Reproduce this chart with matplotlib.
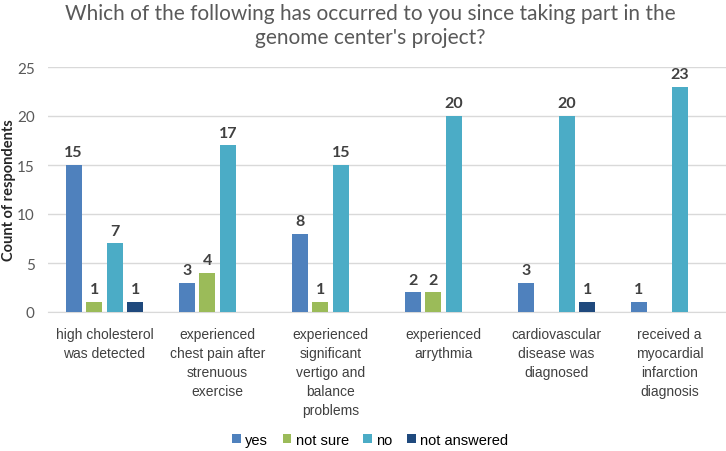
import numpy as np
import matplotlib
matplotlib.use("Agg")
import matplotlib.pyplot as plt

# Datos
categorias = ["high cholesterol\nwas detected",
              "experienced\nchest pain after\nstrenuous\nexercise",
              "experienced\nsignificant\nvertigo and\nbalance\nproblems",
              "experienced\narrythmia",
              "cardiovascular\ndisease was\ndiagnosed",
              "received a\nmyocardial\ninfarction\ndiagnosis"]
series = ["yes", "not sure", "no", "not answered"]
yes = [15, 3, 8, 2, 3, 1]
not_sure = [1, 4, 1, 2, 0, 0]
no = [7, 17, 15, 20, 20, 23]
not_answered = [1, 0, 0, 0, 1, 0]
valores = [yes, not_sure, no, not_answered]
colores = ["#4F81BD", "#9BBB59", "#4BACC6", "#1F497D"]

fig = plt.figure(figsize=(7.26, 4.52), dpi=100)
ax = fig.add_axes([48 / 726, 1 - 313 / 452, 678 / 726, 245 / 452])

x = np.arange(len(categorias))
paso = 0.182
ancho = 0.142
for i, (nombre, vals, c) in enumerate(zip(series, valores, colores)):
    pos = x + (i - 1.5) * paso
    ax.bar(pos, vals, width=ancho, color=c, label=nombre, zorder=3)
    for p, v in zip(pos, vals):
        if v > 0:
            ax.text(p, v + 0.6, str(v), ha="center", va="bottom",
                    fontsize=11.5, fontweight="bold", color="#404040",
                    family="Lato")

ax.set_xlim(-0.5, len(categorias) - 0.5)
ax.set_ylim(0, 25)
ax.set_yticks(range(0, 26, 5))
ax.yaxis.grid(True, color="#D9D9D9", linewidth=1, zorder=0)
for s in ["top", "right", "left"]:
    ax.spines[s].set_visible(False)
ax.spines["bottom"].set_color("#D9D9D9")
ax.tick_params(axis="both", length=0)
ax.tick_params(axis="y", labelsize=11, labelcolor="#595959", pad=9.5)
for lbl in ax.get_yticklabels():
    lbl.set_family("Lato")
ax.set_xticks(x)
ax.set_xticklabels(categorias, fontsize=10, color="#404040",
                   family="Liberation Sans", va="top", linespacing=1.45)
ax.tick_params(axis="x", pad=11)

ax.set_ylabel("Count of respondents", fontsize=10.5, fontweight="bold",
              color="#262626", family="Lato")
ax.yaxis.set_label_coords(-0.047, 0.5)

fig.text(0.51, 1 - 26 / 452,
         "Which of the following has occurred to you since taking part in the\ngenome center's project?",
         ha="center", va="center", fontsize=15, color="#595959",
         family="Lato", linespacing=1.3)

fig.legend(loc="center", bbox_to_anchor=(0.51, 1 - 441 / 452), ncol=4,
           frameon=False, handlelength=0.6, handleheight=0.6,
           handletextpad=0.3, columnspacing=1.0,
           prop={"family": "Liberation Sans", "size": 10.5})

fig.savefig("out.png", dpi=100)
